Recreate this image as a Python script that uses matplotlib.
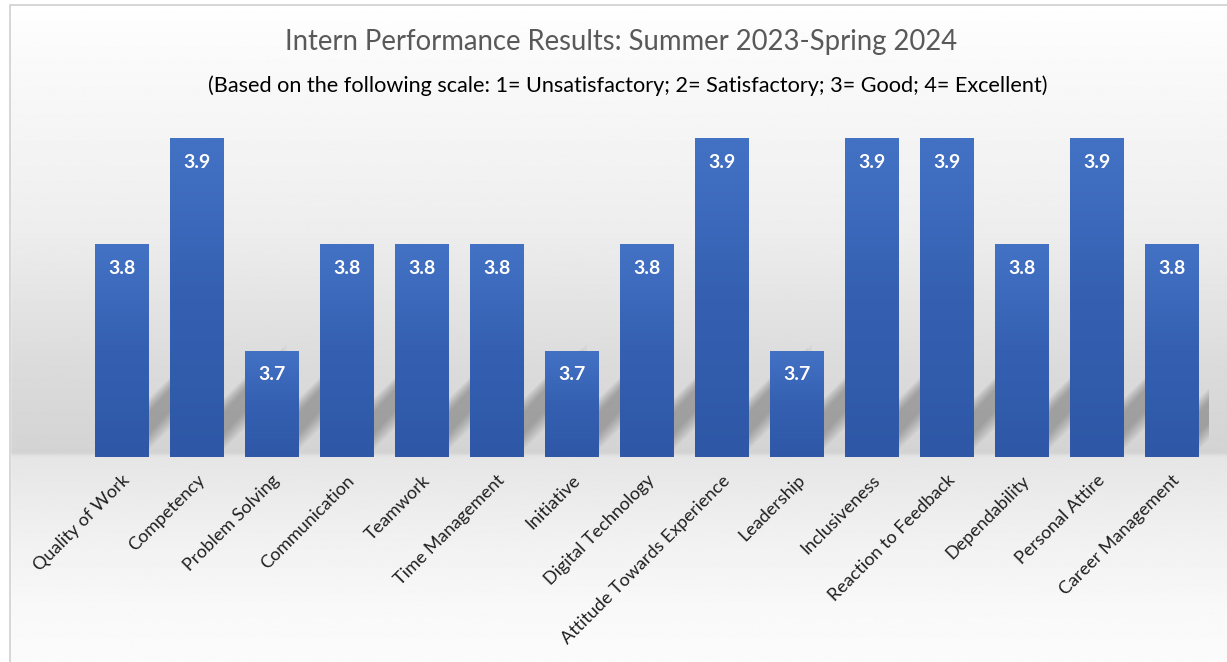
import numpy as np
import matplotlib
matplotlib.use("Agg")
import matplotlib.pyplot as plt
from matplotlib.patches import Polygon, Rectangle
from matplotlib.colors import LinearSegmentedColormap

categories = ["Quality of Work", "Competency", "Problem Solving", "Communication",
              "Teamwork", "Time Management", "Initiative", "Digital Technology",
              "Attitude Towards Experience", "Leadership", "Inclusiveness",
              "Reaction to Feedback", "Dependability", "Personal Attire",
              "Career Management"]
scores = [3.8, 3.9, 3.7, 3.8, 3.8, 3.8, 3.7, 3.8, 3.9, 3.7, 3.9, 3.9, 3.8, 3.9, 3.8]

title = "Intern Performance Results: Summer 2023-Spring 2024"
subtitle = "(Based on the following scale: 1= Unsatisfactory; 2= Satisfactory; 3= Good; 4= Excellent)"

plt.rcParams['font.family'] = ['Lato', 'DejaVu Sans']

W, H = 1227, 662
fig = plt.figure(figsize=(W / 100, H / 100), dpi=100)

# background gradient over the whole figure
bg = fig.add_axes([0, 0, 1, 1], zorder=-10)
ys = np.linspace(0, 1, 400)  # 0 = top
stops = [(0.0, 1.0), (0.04, 0.99), (0.17, 0.965), (0.35, 0.93), (0.55, 0.86),
         (0.685, 0.83), (0.69, 0.90), (0.80, 0.94), (0.92, 0.975), (1.0, 0.985)]
grey = np.interp(ys, [s[0] for s in stops], [s[1] for s in stops])
bg.imshow(np.repeat(grey[:, None], 2, axis=1), cmap='gray', vmin=0, vmax=1,
          aspect='auto', extent=[0, 1, 0, 1], origin='upper')
bg.add_patch(Rectangle((0, 0), 10 / W, 1, color='white', zorder=2))
bg.add_patch(Rectangle((0, 1 - 5 / H), 1, 5 / H, color='white', zorder=2))
bg.plot([10 / W, 10 / W, 1], [0, 1 - 5 / H, 1 - 5 / H], color='#d0d0d0', lw=1.2, zorder=3)
bg.set_xlim(0, 1)
bg.set_ylim(0, 1)
bg.axis('off')

base = 3.6
ax = fig.add_axes([84 / W, 1 - 457 / H, 1125 / W, (457 - 117) / H])
ax.set_xlim(-0.5, len(categories) - 0.5)
ax.set_ylim(base, 3.92)
ax.patch.set_alpha(0)

x = np.arange(len(categories))
bw = 0.71

# soft diagonal floor shadows behind the bars, layered so the edges fade
px = 0.1 / 106.0  # one pixel in data units (y)
nlay = 9
for i, v in enumerate(scores):
    xr = i + bw / 2
    for k in range(nlay):
        t = (nlay - k) * 3.0
        lo = 16 - t * 0.6
        hi = 34 + t * 0.6
        run = 0.45 + 0.05 * k
        rise = run * 75 * 1.2
        poly = Polygon([(xr - 0.1, base + lo * px), (xr + run, base + (lo + rise) * px),
                        (xr + run, base + (hi + rise) * px), (xr - 0.1, base + hi * px)],
                       closed=True, facecolor='#5a5a5a', edgecolor='none', alpha=0.06, zorder=1)
        ax.add_patch(poly)

bars = ax.bar(x, [v - base for v in scores], bottom=base, width=bw,
              color='#3a66b8', edgecolor='#5b82c8', linewidth=0.6, zorder=3)

grad = LinearSegmentedColormap.from_list('barblue', ['#2e58a6', '#3560b2', '#4372c4'])
for b in bars:
    x0, y0 = b.get_x(), b.get_y()
    im = ax.imshow(np.linspace(0, 1, 100)[:, None], cmap=grad, aspect='auto',
                   extent=[x0, x0 + b.get_width(), y0, y0 + b.get_height()],
                   origin='lower', zorder=3.5)
    im.set_clip_path(b)

for xi, v in zip(x, scores):
    ax.text(xi, v - 24 * px, f"{v:.1f}", ha='center', va='center', color='white',
            fontsize=14, fontweight='bold', zorder=5)

ax.set_xticks(x)
ax.set_xticklabels(categories, rotation=45, ha='right', rotation_mode='anchor',
                   fontsize=13, color='#1f1f1f')
ax.tick_params(axis='x', length=0, pad=11)
ax.set_yticks([])
for s in ax.spines.values():
    s.set_visible(False)

fig.text(621 / W, 1 - 42 / H, title, ha='center', va='center', fontsize=19.8, color='#595959')
fig.text(628 / W, 1 - 86 / H, subtitle, ha='center', va='center', fontsize=15.6, color='black')

fig.savefig("out.png", dpi=100)
